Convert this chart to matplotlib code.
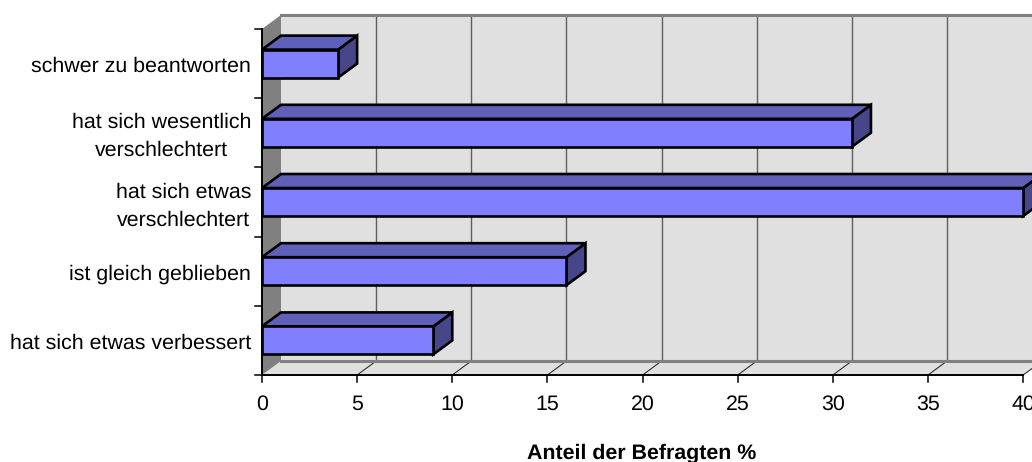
import matplotlib
matplotlib.use("Agg")
import matplotlib.pyplot as plt

plt.rcParams['font.family'] = ['Liberation Sans', 'DejaVu Sans']
plt.rcParams['text.hinting'] = 'no_hinting'
plt.rcParams['text.hinting_factor'] = 8

categories = [
    "hat sich etwas verbessert",
    "ist gleich geblieben",
    "hat sich etwas\nverschlechtert",
    "hat sich wesentlich\nverschlechtert",
    "schwer zu beantworten",
]
values = [9, 16, 40, 31, 4]
x_ticks = [0, 5, 10, 15, 20, 25, 30, 35, 40]
x_label = "Anteil der Befragten %"

# pixel scale of the front plane
px_x = 19.03
px_y = 69.2
x0 = 262
y0 = 375
W, H = 1032, 462

# 3d depth, in data units
dx = 19 / px_x
dy = 14 / px_y
bar_half = 14 / px_y

fig = plt.figure(figsize=(W / 100, H / 100), dpi=100)
ax = fig.add_axes([0, 0, 1, 1])
ax.set_xlim(-x0 / px_x, (W - x0) / px_x)
ax.set_ylim(-(H - y0) / px_y, y0 / px_y)
ax.axis("off")

n = len(categories)
xmax = x_ticks[-1]
wall = "#e0e0e0"
side = "#808080"

# back wall, floor and left wall
ax.fill([dx, xmax + dx, xmax + dx, dx], [dy, dy, n + dy, n + dy], color=wall, lw=0, zorder=1)
ax.fill([0, dx, xmax + dx, xmax], [0, dy, dy, 0], color=wall, lw=0, zorder=1)
ax.fill([0, dx, dx, 0], [0, dy, n + dy, n], color=side, lw=0, zorder=1)

# grid lines on the back wall and floor
for t in x_ticks[1:]:
    ax.plot([t + dx, t + dx], [dy, n + dy], color="#606060", lw=1, zorder=2)
    ax.plot([t, t + dx], [0, dy], color="#303030", lw=0.8, zorder=2)
ax.plot([dx, xmax + dx], [n + dy, n + dy], color="#808080", lw=2.2, zorder=2)
ax.plot([dx, xmax + dx], [dy, dy], color="#808080", lw=2.2, zorder=2)

# bars
for i, v in enumerate(values):
    c = i + 0.5
    lo, hi = c - bar_half, c + bar_half
    ax.fill([v, v + dx, v + dx, v], [lo, lo + dy, hi + dy, hi],
            facecolor="#464688", edgecolor="black", lw=1.9, joinstyle="miter", zorder=3)
    ax.fill([0, dx, v + dx, v], [hi, hi + dy, hi + dy, hi],
            facecolor="#6060bb", edgecolor="black", lw=1.9, joinstyle="miter", zorder=3)
    ax.fill([0, v, v, 0], [lo, lo, hi, hi],
            facecolor="#8080ff", edgecolor="black", lw=1.9, joinstyle="miter", zorder=4)

# axis lines and ticks
ax.plot([0, 0], [0, n], color="black", lw=1.4, zorder=5)
ax.plot([0, xmax], [0, 0], color="black", lw=1.4, zorder=5)
tick_x = 7 / px_x
tick_y = 7 / px_y
for i in range(n + 1):
    ax.plot([-tick_x, 0], [i, i], color="black", lw=1.1, zorder=5)
for t in x_ticks:
    ax.plot([t, t], [0, -tick_y], color="black", lw=1.1, zorder=5)
    ax.text(t, -(404 - y0) / px_y, str(t), ha="center", va="center", fontsize=15.4)

for i, label in enumerate(categories):
    shift = 4 / px_y if "\n" in label else 3 / px_y
    ax.text(-11 / px_x, i + 0.5 - shift, label, ha="right", va="center", fontsize=15.4,
            multialignment="center", linespacing=1.56)

ax.text(19.97, -(453 - y0) / px_y, x_label, ha="center", va="center",
        fontsize=15.4, fontweight="bold")

fig.savefig("out.png", dpi=100)
